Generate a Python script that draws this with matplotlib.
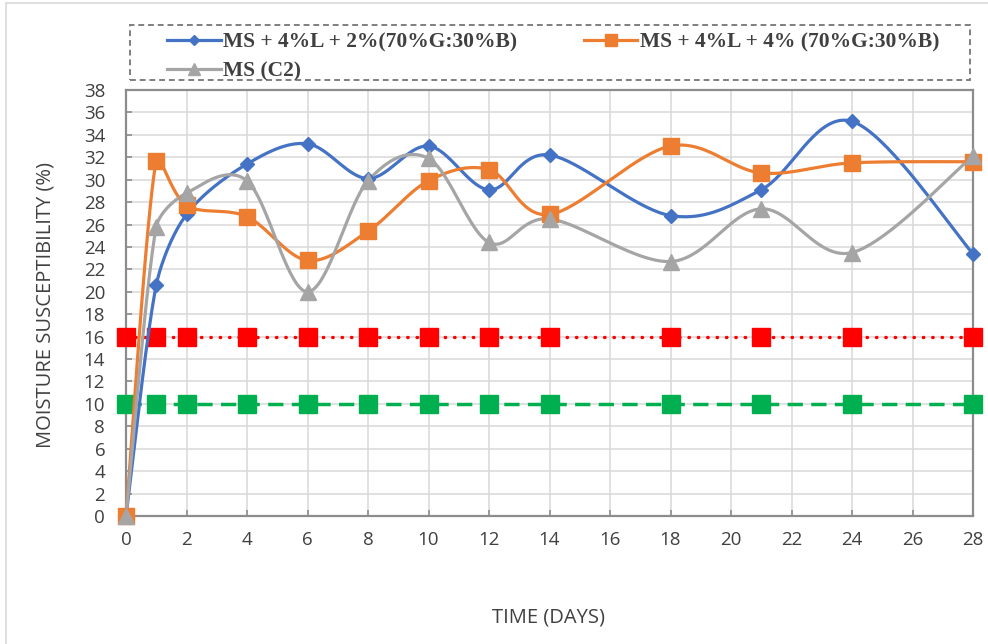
import matplotlib
matplotlib.use("Agg")
import matplotlib.pyplot as plt
from matplotlib.lines import Line2D
from matplotlib.patches import Rectangle
import numpy as np

days = [0, 1, 2, 4, 6, 8, 10, 12, 14, 18, 21, 24, 28]
mix_2pct = [0, 20.6, 26.9, 31.4, 33.2, 30.1, 33.0, 29.1, 32.2, 26.8, 29.1, 35.2, 23.4]
mix_4pct = [0, 31.7, 27.7, 26.7, 22.8, 25.4, 29.9, 30.9, 26.9, 33.0, 30.6, 31.5, 31.6]
ms_c2 = [0, 25.8, 28.8, 29.9, 20.0, 29.9, 31.9, 24.4, 26.5, 22.7, 27.4, 23.5, 32.1]
limit_16 = [16, 16, 16, 16, 16, 16, 16, 16, 16, 16, 16, 16, 16]
limit_10 = [10, 10, 10, 10, 10, 10, 10, 10, 10, 10, 10, 10, 10]

labels = ["MS + 4%L + 2%(70%G:30%B)", "MS + 4%L + 4% (70%G:30%B)", "MS (C2)"]
xticks = list(range(0, 30, 2))
yticks = list(range(0, 40, 2))

BLUE, ORANGE, GREY = "#4472C4", "#ED7D31", "#A5A5A5"
RED, GREEN = "#FF0000", "#00B050"


def smooth(x, y, sx=30.25, sy=11.2, n=40):
    # Excel-like bezier smoothing (tangents shortened on short segments)
    p = np.column_stack([np.asarray(x, float) * sx, np.asarray(y, float) * sy])
    pts = np.vstack([p[0], p, p[-1]])
    out = []
    t = np.linspace(0, 1, n)[:, None]
    for i in range(len(p) - 1):
        p0, p1, p2, p3 = pts[i], pts[i + 1], pts[i + 2], pts[i + 3]
        d12 = np.hypot(*(p2 - p1))
        d02 = np.hypot(*(p2 - p0))
        d13 = np.hypot(*(p3 - p1))
        f0 = 1 / 6 if d02 / 6 < d12 / 2 else d12 / d02 / 2 * 0.5
        f1 = 1 / 6 if d13 / 6 < d12 / 2 else d12 / d13 / 2 * 0.5
        c1 = p1 + (p2 - p0) * f0
        c2 = p2 - (p3 - p1) * f1
        seg = (1 - t) ** 3 * p1 + 3 * (1 - t) ** 2 * t * c1 + 3 * (1 - t) * t ** 2 * c2 + t ** 3 * p2
        out.append(seg if i == 0 else seg[1:])
    out = np.vstack(out)
    return out[:, 0] / sx, out[:, 1] / sy


fig = plt.figure(figsize=(9.88, 6.44), dpi=100)
ax = fig.add_axes([126 / 988, 1 - 516 / 644, (973 - 126) / 988, (516 - 90) / 644])

# outer chart border
fig.patches.append(Rectangle((6 / 988, -0.05), 1.0, 1.05 - 3 / 644, transform=fig.transFigure,
                             fill=False, edgecolor="#d9d9d9", linewidth=1.2))

# reference lines
ax.plot(days, limit_16, color=RED, linestyle=(0, (0.1, 2.6)), linewidth=2.5,
        dash_capstyle="round", marker="s", markersize=12.5, zorder=3, clip_on=False)
ax.plot(days, limit_10, color=GREEN, linestyle=(0, (4.4, 2.4)), linewidth=2.5,
        marker="s", markersize=12.5, zorder=3, clip_on=False)

series = [
    (mix_2pct, BLUE, "D", 7),
    (mix_4pct, ORANGE, "s", 11.5),
    (ms_c2, GREY, "^", 11.5),
]
handles = []
for (vals, col, mk, ms), lab in zip(series, labels):
    sx, sy = smooth(days, vals)
    ax.plot(sx, sy, color=col, linewidth=2.3, zorder=4, clip_on=False)
    ax.plot(days, vals, linestyle="none", marker=mk, markersize=ms, color=col,
            zorder=5, clip_on=False)
    handles.append(Line2D([], [], color=col, linewidth=2.3, marker=mk,
                          markersize=ms * 0.75, label=lab))

ax.set_xlim(0, 28)
ax.set_ylim(0, 38)
ax.set_xticks(xticks)
ax.set_yticks(yticks)
ax.grid(True, color="#d9d9d9", linewidth=1.1, zorder=0)
ax.set_axisbelow(True)
for s in ax.spines.values():
    s.set_color("#8c8c8c")
    s.set_linewidth(1.6)
ax.tick_params(axis="both", direction="in", length=4, width=1.2, color="#8c8c8c",
               labelsize=13.5, labelcolor="#404040")
ax.tick_params(axis="x", pad=11)
ax.tick_params(axis="y", pad=15)
for lbl in ax.get_xticklabels() + ax.get_yticklabels():
    lbl.set_fontfamily("Open Sans")

fig.text(45 / 988, 1 - 305 / 644, "MOISTURE SUSCEPTIBILITY (%)", rotation=90,
         ha="center", va="center", fontsize=14.5, family="Open Sans", color="#404040")
fig.text(548 / 988, 1 - 618 / 644, "TIME (DAYS)", ha="center", va="center",
         fontsize=14.5, family="Open Sans", color="#404040")

# dashed legend box
fig.patches.append(Rectangle((130 / 988, 1 - 80 / 644), 840 / 988, 55.5 / 644,
                             transform=fig.transFigure, fill=False, edgecolor="#7f7f7f",
                             linestyle=(0, (3, 2)), linewidth=1.4))
fig.legend([handles[0], handles[2], handles[1]],
           [labels[0], labels[2], labels[1]],
           ncol=2, loc="upper left", bbox_to_anchor=(156 / 988, 1 - 22 / 644),
           frameon=False, borderpad=0, handlelength=2.5, handletextpad=0.1,
           columnspacing=3.1, labelspacing=0.42,
           prop={"family": "Liberation Serif", "weight": "bold", "size": 15.5},
           labelcolor="#404040")

fig.savefig("out.png", dpi=100)
